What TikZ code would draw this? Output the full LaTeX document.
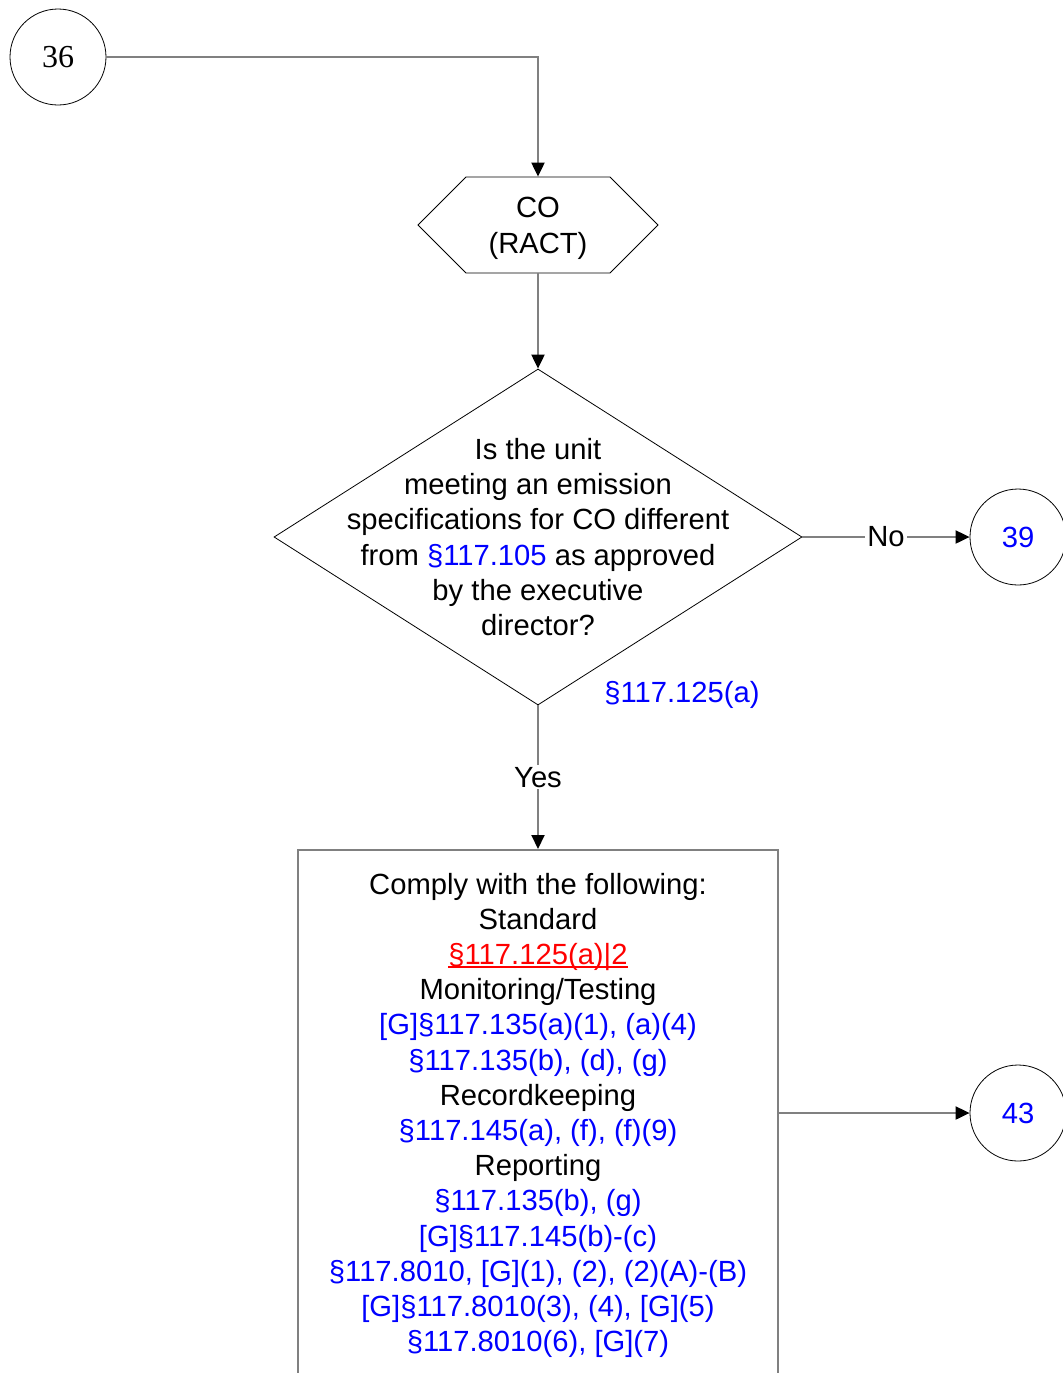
\documentclass[tikz,border=0pt]{standalone}
\usepackage{fontspec}
\setmainfont{Liberation Sans}
\newfontfamily\numfont{Liberation Serif}
\usetikzlibrary{shapes.geometric,shapes.symbols,arrows.meta}

\definecolor{linegray}{RGB}{128,128,128}
\definecolor{refblue}{RGB}{0,0,255}
\definecolor{refred}{RGB}{255,0,0}
\newsavebox{\ulrefbox}
\newcommand{\ulref}[1]{\sbox{\ulrefbox}{#1}\leavevmode\rlap{\rule[-1.6pt]{\wd\ulrefbox}{0.9pt}}\usebox{\ulrefbox}}

\tikzset{
	onpage/.style={circle, draw=black, thin, minimum size=48pt, inner sep=0pt},
	conn/.style={draw=linegray, line width=1pt, -{Triangle[length=7pt,width=6.5pt,color=black]}},
	hexbox/.style={signal, signal to=east and west, signal pointer angle=90, draw=black, thin, minimum width=120pt, minimum height=48pt, align=center},
	question/.style={diamond, draw=black, thin, minimum width=264pt, minimum height=168pt, inner sep=0pt},
	actbox/.style={rectangle, draw=linegray, line width=1pt, minimum width=240pt, align=center, inner ysep=11.5pt},
	ref/.style={text=refblue},
	answer/.style={fill=white, inner sep=1pt},
}

\begin{document}
\begin{tikzpicture}[x=0.5pt, y=-0.5pt, font=\fontsize{14.6pt}{17.6pt}\selectfont]
		%\draw[thin, draw=gray!30, step=50] (0,0) grid (1063,1373);
		\useasboundingbox (0,0) rectangle (1063,1373);
		\clip (0,0) rectangle (1063,1373);
		
		\node[onpage, font=\numfont\fontsize{16pt}{18pt}\selectfont] (c36) at (58,57) {36};
		\node[hexbox] (co) at (538,225) {\rule{0pt}{13.6pt}CO\\(RACT)};
		\node[question] (q) at (538,537) {};
		\node[align=center] (qtext) at (538,537) {Is the unit\\meeting an emission\\specifications for CO different\\from {\color{refblue}§117.105} as approved\\by the executive\\director?};
		\node[ref] (qref) at (682,695) {§117.125(a)};
		\node[onpage, ref] (c39) at (1018,537) {39};
		
		\node[actbox, anchor=north] (box) at (538,849) {Comply with the following:\\Standard\\{\color{refred}\ulref{§117.125(a)|2}}\\Monitoring/Testing\\{\color{refblue}[G]§117.135(a)(1), (a)(4)}\\{\color{refblue}§117.135(b), (d), (g)}\\Recordkeeping\\{\color{refblue}§117.145(a), (f), (f)(9)}\\Reporting\\{\color{refblue}§117.135(b), (g)}\\{\color{refblue}[G]§117.145(b)-(c)}\\{\color{refblue}§117.8010, [G](1), (2), (2)(A)-(B)}\\{\color{refblue}[G]§117.8010(3), (4), [G](5)}\\{\color{refblue}§117.8010(6), [G](7)}};
		\node[onpage, ref] (c43) at (1018,1113) {43};
		
		\draw[conn] (c36.east) -| (co.north);
		\draw[conn] (co.south) -- (q.north);
		\draw[conn] (q.east) -- node[answer] {No} (c39.west);
		\draw[conn] (q.south) -- node[answer] {Yes} (box.north);
		\draw[conn] (box.east |- c43.west) -- (c43.west);
	\end{tikzpicture}
\end{document}
